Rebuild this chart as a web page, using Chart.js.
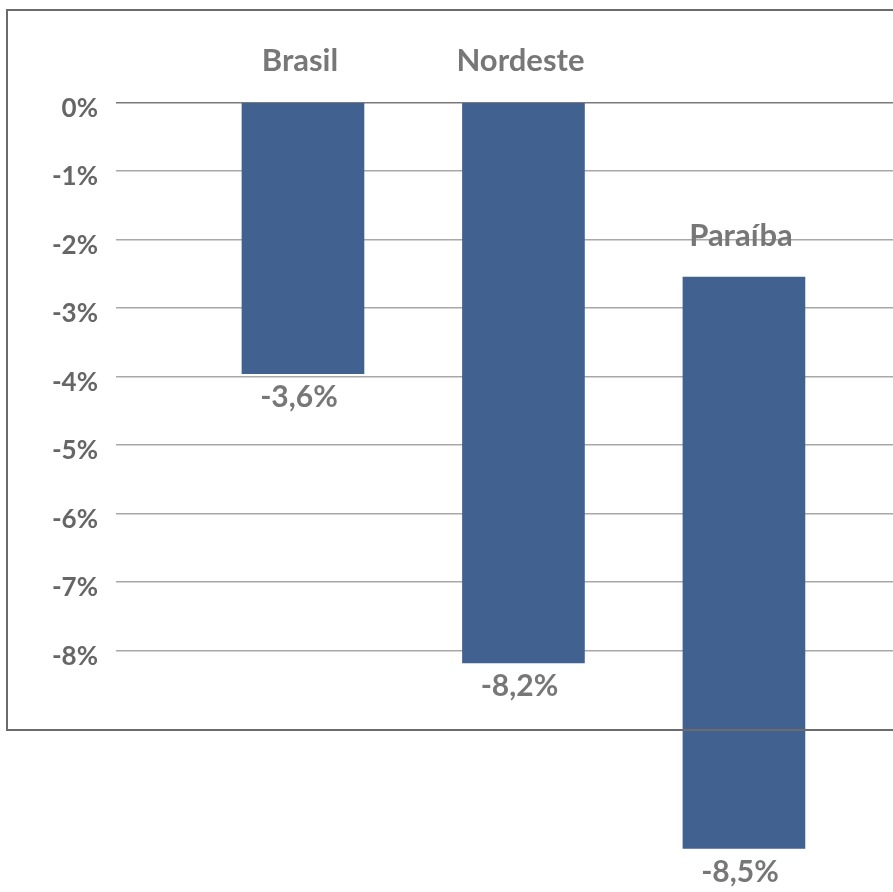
<!DOCTYPE html>
<html>
<head>
<meta charset="utf-8">
<script src="https://cdn.jsdelivr.net/npm/chart.js@4/dist/chart.umd.min.js"></script>
<style>
  body { margin: 0; background: #fff; }
  #wrap { position: relative; width: 893px; height: 892px; overflow: hidden; }
  #frame {
    position: absolute; left: 6px; top: 9px; width: 1000px; height: 718px;
    border: 2px solid #6b6b6b; pointer-events: none;
  }
</style>
</head>
<body>
<div id="wrap">
  <canvas id="chart" width="893" height="892"></canvas>
  <div id="frame"></div>
</div>
<script>
// data
const categories = ['Brasil', 'Nordeste', 'Paraíba'];
const barStart = [0, 0, -2.55];
const barEnd = [-3.96, -8.18, -10.89];
const valueLabels = ['-3,6%', '-8,2%', '-8,5%'];
const tickValues = [0, -1, -2, -3, -4, -5, -6, -7, -8];

const barData = categories.map((c, i) => ({ x: i, y: [barStart[i], barEnd[i]] }));

// category name above each bar, value label below it
const barLabels = {
  id: 'barLabels',
  afterDatasetsDraw(chart) {
    const ctx = chart.ctx;
    const y = chart.scales.y;
    const meta = chart.getDatasetMeta(0);
    ctx.save();
    ctx.textAlign = 'center';
    ctx.textBaseline = 'middle';
    meta.data.forEach((bar, i) => {
      const top = y.getPixelForValue(Math.max(barStart[i], barEnd[i]));
      const bottom = y.getPixelForValue(Math.min(barStart[i], barEnd[i]));
      ctx.fillStyle = '#777';
      ctx.font = 'bold 31px Lato';
      ctx.fillText(categories[i], bar.x - 3, top - 41);
      ctx.font = 'bold 30px Lato';
      ctx.fillText(valueLabels[i], bar.x - 4, bottom + 24);
    });
    ctx.restore();
  }
};

new Chart(document.getElementById('chart').getContext('2d'), {
  type: 'bar',
  data: {
    datasets: [{
      data: barData,
      backgroundColor: '#416190',
      barThickness: 122
    }]
  },
  options: {
    responsive: false,
    animation: false,
    layout: { padding: 0 },
    plugins: { legend: { display: false }, tooltip: { enabled: false } },
    scales: {
      x: {
        type: 'linear',
        display: false,
        offset: false,
        min: -0.848,
        max: 2.676
      },
      y: {
        min: -11.526,
        max: 1.496,
        afterFit: scale => {
          scale.width = 116;
          scale.paddingTop = 0;
          scale.paddingBottom = 0;
        },
        afterBuildTicks: scale => {
          scale.ticks = tickValues.map(v => ({ value: v }));
        },
        border: { display: false },
        grid: {
          drawTicks: false,
          lineWidth: 1.5,
          color: ctx => (ctx.tick && ctx.tick.value === 0) ? '#7a7a7a' : '#a8a8a8'
        },
        ticks: {
          padding: 18,
          labelOffset: 6,
          color: '#666',
          font: { family: 'Lato', size: 26, weight: 'bold' },
          callback: v => v + '%'
        }
      }
    }
  },
  plugins: [barLabels]
});
</script>
</body>
</html>
